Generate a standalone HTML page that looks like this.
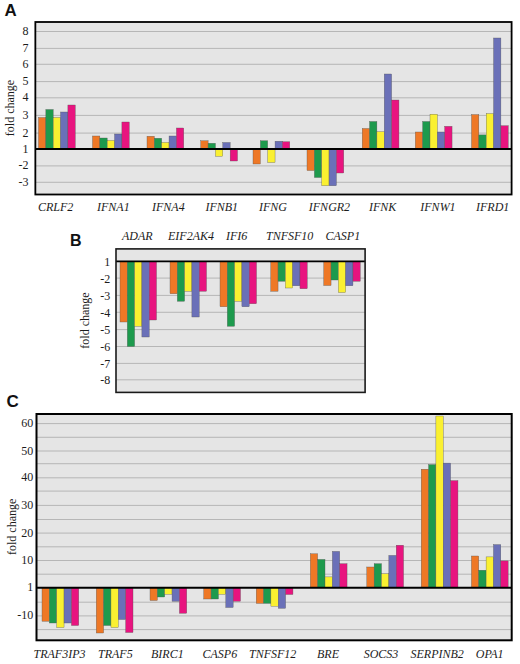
<!DOCTYPE html>
<html lang="en">
<head>
<meta charset="utf-8">
<title>Figure: fold change of interferon- and apoptosis-related genes</title>
<style>
html,body{margin:0;padding:0;background:#fff;}
body{width:520px;height:664px;overflow:hidden;}
svg{display:block;}
.pl{font-family:"Liberation Sans",Arial,Helvetica,sans-serif;font-weight:bold;font-size:16px;fill:#111;}
.tk{font-family:"Liberation Serif","Times New Roman",Times,serif;font-size:12px;fill:#1c1c1c;}
.gl{font-family:"Liberation Serif","Times New Roman",Times,serif;font-style:italic;font-size:12px;fill:#1c1c1c;}
</style>
</head>
<body>
<svg width="520" height="664" viewBox="0 0 520 664">
<rect width="520" height="664" fill="#fff"/>
<rect x="35.35" y="22.0" width="476.25" height="172.5" fill="#e5e5e5"/>
<line x1="35.35" x2="511.6" y1="31.5" y2="31.5" stroke="#a2a2a2" stroke-width="0.7"/>
<line x1="35.35" x2="511.6" y1="48.4" y2="48.4" stroke="#a2a2a2" stroke-width="0.7"/>
<line x1="35.35" x2="511.6" y1="64.3" y2="64.3" stroke="#a2a2a2" stroke-width="0.7"/>
<line x1="35.35" x2="511.6" y1="81.6" y2="81.6" stroke="#a2a2a2" stroke-width="0.7"/>
<line x1="35.35" x2="511.6" y1="97.8" y2="97.8" stroke="#a2a2a2" stroke-width="0.7"/>
<line x1="35.35" x2="511.6" y1="115.4" y2="115.4" stroke="#a2a2a2" stroke-width="0.7"/>
<line x1="35.35" x2="511.6" y1="133.1" y2="133.1" stroke="#a2a2a2" stroke-width="0.7"/>
<line x1="35.35" x2="511.6" y1="165.9" y2="165.9" stroke="#a2a2a2" stroke-width="0.7"/>
<line x1="35.35" x2="511.6" y1="182.3" y2="182.3" stroke="#a2a2a2" stroke-width="0.7"/>
<rect x="38.50" y="117.50" width="7.35" height="31.50" fill="#ee7826" stroke="#555" stroke-width="0.35"/>
<rect x="45.85" y="109.50" width="7.35" height="39.50" fill="#1d9a4d" stroke="#555" stroke-width="0.35"/>
<rect x="53.20" y="117.50" width="7.35" height="31.50" fill="#faf031" stroke="#555" stroke-width="0.35"/>
<rect x="60.55" y="112.00" width="7.35" height="37.00" fill="#6a70b8" stroke="#555" stroke-width="0.35"/>
<rect x="67.90" y="105.00" width="7.35" height="44.00" fill="#e8147f" stroke="#555" stroke-width="0.35"/>
<rect x="92.50" y="136.00" width="7.35" height="13.00" fill="#ee7826" stroke="#555" stroke-width="0.35"/>
<rect x="99.85" y="138.00" width="7.35" height="11.00" fill="#1d9a4d" stroke="#555" stroke-width="0.35"/>
<rect x="107.20" y="140.50" width="7.35" height="8.50" fill="#faf031" stroke="#555" stroke-width="0.35"/>
<rect x="114.55" y="134.00" width="7.35" height="15.00" fill="#6a70b8" stroke="#555" stroke-width="0.35"/>
<rect x="121.90" y="122.00" width="7.35" height="27.00" fill="#e8147f" stroke="#555" stroke-width="0.35"/>
<rect x="147.00" y="136.25" width="7.35" height="12.75" fill="#ee7826" stroke="#555" stroke-width="0.35"/>
<rect x="154.35" y="138.25" width="7.35" height="10.75" fill="#1d9a4d" stroke="#555" stroke-width="0.35"/>
<rect x="161.70" y="142.50" width="7.35" height="6.50" fill="#faf031" stroke="#555" stroke-width="0.35"/>
<rect x="169.05" y="136.00" width="7.35" height="13.00" fill="#6a70b8" stroke="#555" stroke-width="0.35"/>
<rect x="176.40" y="128.00" width="7.35" height="21.00" fill="#e8147f" stroke="#555" stroke-width="0.35"/>
<rect x="200.75" y="140.75" width="7.35" height="8.25" fill="#ee7826" stroke="#555" stroke-width="0.35"/>
<rect x="208.10" y="143.25" width="7.35" height="5.75" fill="#1d9a4d" stroke="#555" stroke-width="0.35"/>
<rect x="215.45" y="149.00" width="7.35" height="7.25" fill="#faf031" stroke="#555" stroke-width="0.35"/>
<rect x="222.80" y="142.50" width="7.35" height="6.50" fill="#6a70b8" stroke="#555" stroke-width="0.35"/>
<rect x="230.15" y="149.00" width="7.35" height="12.00" fill="#e8147f" stroke="#555" stroke-width="0.35"/>
<rect x="253.00" y="149.00" width="7.35" height="15.00" fill="#ee7826" stroke="#555" stroke-width="0.35"/>
<rect x="260.35" y="140.75" width="7.35" height="8.25" fill="#1d9a4d" stroke="#555" stroke-width="0.35"/>
<rect x="267.70" y="149.00" width="7.35" height="13.50" fill="#faf031" stroke="#555" stroke-width="0.35"/>
<rect x="275.05" y="141.25" width="7.35" height="7.75" fill="#6a70b8" stroke="#555" stroke-width="0.35"/>
<rect x="282.40" y="141.75" width="7.35" height="7.25" fill="#e8147f" stroke="#555" stroke-width="0.35"/>
<rect x="307.00" y="149.00" width="7.35" height="21.50" fill="#ee7826" stroke="#555" stroke-width="0.35"/>
<rect x="314.35" y="149.00" width="7.35" height="28.50" fill="#1d9a4d" stroke="#555" stroke-width="0.35"/>
<rect x="321.70" y="149.00" width="7.35" height="36.75" fill="#faf031" stroke="#555" stroke-width="0.35"/>
<rect x="329.05" y="149.00" width="7.35" height="36.75" fill="#6a70b8" stroke="#555" stroke-width="0.35"/>
<rect x="336.40" y="149.00" width="7.35" height="24.00" fill="#e8147f" stroke="#555" stroke-width="0.35"/>
<rect x="362.20" y="128.50" width="7.35" height="20.50" fill="#ee7826" stroke="#555" stroke-width="0.35"/>
<rect x="369.55" y="121.50" width="7.35" height="27.50" fill="#1d9a4d" stroke="#555" stroke-width="0.35"/>
<rect x="376.90" y="131.70" width="7.35" height="17.30" fill="#faf031" stroke="#555" stroke-width="0.35"/>
<rect x="384.25" y="74.00" width="7.35" height="75.00" fill="#6a70b8" stroke="#555" stroke-width="0.35"/>
<rect x="391.60" y="100.00" width="7.35" height="49.00" fill="#e8147f" stroke="#555" stroke-width="0.35"/>
<rect x="415.30" y="132.00" width="7.35" height="17.00" fill="#ee7826" stroke="#555" stroke-width="0.35"/>
<rect x="422.65" y="121.50" width="7.35" height="27.50" fill="#1d9a4d" stroke="#555" stroke-width="0.35"/>
<rect x="430.00" y="114.20" width="7.35" height="34.80" fill="#faf031" stroke="#555" stroke-width="0.35"/>
<rect x="437.35" y="132.00" width="7.35" height="17.00" fill="#6a70b8" stroke="#555" stroke-width="0.35"/>
<rect x="444.70" y="126.30" width="7.35" height="22.70" fill="#e8147f" stroke="#555" stroke-width="0.35"/>
<rect x="471.50" y="114.60" width="7.35" height="34.40" fill="#ee7826" stroke="#555" stroke-width="0.35"/>
<rect x="478.85" y="134.90" width="7.35" height="14.10" fill="#1d9a4d" stroke="#555" stroke-width="0.35"/>
<rect x="486.20" y="113.60" width="7.35" height="35.40" fill="#faf031" stroke="#555" stroke-width="0.35"/>
<rect x="493.55" y="38.00" width="7.35" height="111.00" fill="#6a70b8" stroke="#555" stroke-width="0.35"/>
<rect x="500.90" y="125.70" width="7.35" height="23.30" fill="#e8147f" stroke="#555" stroke-width="0.35"/>
<line x1="35.35" x2="511.6" y1="149" y2="149" stroke="#000" stroke-width="1.85"/>
<rect x="35.35" y="22.0" width="476.25" height="172.5" fill="none" stroke="#000" stroke-width="1.8"/>
<text x="4.6" y="16.2" class="pl" text-anchor="start" style="font-size:16.9px">A</text>
<text x="28.5" y="35.0" class="tk" text-anchor="end" >8</text>
<text x="28.5" y="51.9" class="tk" text-anchor="end" >7</text>
<text x="28.5" y="67.8" class="tk" text-anchor="end" >6</text>
<text x="28.5" y="85.1" class="tk" text-anchor="end" >5</text>
<text x="28.5" y="101.3" class="tk" text-anchor="end" >4</text>
<text x="28.5" y="118.9" class="tk" text-anchor="end" >3</text>
<text x="28.5" y="136.6" class="tk" text-anchor="end" >2</text>
<text x="28.5" y="152.5" class="tk" text-anchor="end" >1</text>
<text x="28.5" y="169.4" class="tk" text-anchor="end" >-2</text>
<text x="28.5" y="185.8" class="tk" text-anchor="end" >-3</text>
<text x="0" y="0" class="tk" text-anchor="middle" transform="translate(13.7,108) rotate(-90)">fold change</text>
<text x="38" y="210.5" class="gl" text-anchor="start" >CRLF2</text>
<text x="97" y="210.5" class="gl" text-anchor="start" >IFNA1</text>
<text x="152" y="210.5" class="gl" text-anchor="start" >IFNA4</text>
<text x="205.4" y="210.5" class="gl" text-anchor="start" >IFNB1</text>
<text x="259" y="210.5" class="gl" text-anchor="start" >IFNG</text>
<text x="308.8" y="210.5" class="gl" text-anchor="start" >IFNGR2</text>
<text x="369" y="210.5" class="gl" text-anchor="start" >IFNK</text>
<text x="420.3" y="210.5" class="gl" text-anchor="start" >IFNW1</text>
<text x="476" y="210.5" class="gl" text-anchor="start" >IFRD1</text>
<rect x="116" y="248.9" width="249.10000000000002" height="143.49999999999997" fill="#e5e5e5"/>
<line x1="116" x2="365.1" y1="278.1" y2="278.1" stroke="#a2a2a2" stroke-width="0.7"/>
<line x1="116" x2="365.1" y1="295.4" y2="295.4" stroke="#a2a2a2" stroke-width="0.7"/>
<line x1="116" x2="365.1" y1="312.3" y2="312.3" stroke="#a2a2a2" stroke-width="0.7"/>
<line x1="116" x2="365.1" y1="329.6" y2="329.6" stroke="#a2a2a2" stroke-width="0.7"/>
<line x1="116" x2="365.1" y1="346.5" y2="346.5" stroke="#a2a2a2" stroke-width="0.7"/>
<line x1="116" x2="365.1" y1="363.4" y2="363.4" stroke="#a2a2a2" stroke-width="0.7"/>
<line x1="116" x2="365.1" y1="379.8" y2="379.8" stroke="#a2a2a2" stroke-width="0.7"/>
<rect x="120.00" y="261.40" width="7.30" height="60.60" fill="#ee7826" stroke="#555" stroke-width="0.35"/>
<rect x="127.30" y="261.40" width="7.30" height="85.10" fill="#1d9a4d" stroke="#555" stroke-width="0.35"/>
<rect x="134.60" y="261.40" width="7.30" height="64.85" fill="#faf031" stroke="#555" stroke-width="0.35"/>
<rect x="141.90" y="261.40" width="7.30" height="75.60" fill="#6a70b8" stroke="#555" stroke-width="0.35"/>
<rect x="149.20" y="261.40" width="7.30" height="58.60" fill="#e8147f" stroke="#555" stroke-width="0.35"/>
<rect x="170.00" y="261.40" width="7.30" height="32.35" fill="#ee7826" stroke="#555" stroke-width="0.35"/>
<rect x="177.30" y="261.40" width="7.30" height="39.85" fill="#1d9a4d" stroke="#555" stroke-width="0.35"/>
<rect x="184.60" y="261.40" width="7.30" height="29.85" fill="#faf031" stroke="#555" stroke-width="0.35"/>
<rect x="191.90" y="261.40" width="7.30" height="55.60" fill="#6a70b8" stroke="#555" stroke-width="0.35"/>
<rect x="199.20" y="261.40" width="7.30" height="29.85" fill="#e8147f" stroke="#555" stroke-width="0.35"/>
<rect x="220.00" y="261.40" width="7.30" height="45.35" fill="#ee7826" stroke="#555" stroke-width="0.35"/>
<rect x="227.30" y="261.40" width="7.30" height="64.85" fill="#1d9a4d" stroke="#555" stroke-width="0.35"/>
<rect x="234.60" y="261.40" width="7.30" height="39.85" fill="#faf031" stroke="#555" stroke-width="0.35"/>
<rect x="241.90" y="261.40" width="7.30" height="45.35" fill="#6a70b8" stroke="#555" stroke-width="0.35"/>
<rect x="249.20" y="261.40" width="7.30" height="42.35" fill="#e8147f" stroke="#555" stroke-width="0.35"/>
<rect x="270.75" y="261.40" width="7.30" height="29.85" fill="#ee7826" stroke="#555" stroke-width="0.35"/>
<rect x="278.05" y="261.40" width="7.30" height="19.85" fill="#1d9a4d" stroke="#555" stroke-width="0.35"/>
<rect x="285.35" y="261.40" width="7.30" height="26.60" fill="#faf031" stroke="#555" stroke-width="0.35"/>
<rect x="292.65" y="261.40" width="7.30" height="24.35" fill="#6a70b8" stroke="#555" stroke-width="0.35"/>
<rect x="299.95" y="261.40" width="7.30" height="27.35" fill="#e8147f" stroke="#555" stroke-width="0.35"/>
<rect x="323.75" y="261.40" width="7.30" height="24.10" fill="#ee7826" stroke="#555" stroke-width="0.35"/>
<rect x="331.05" y="261.40" width="7.30" height="18.60" fill="#1d9a4d" stroke="#555" stroke-width="0.35"/>
<rect x="338.35" y="261.40" width="7.30" height="31.10" fill="#faf031" stroke="#555" stroke-width="0.35"/>
<rect x="345.65" y="261.40" width="7.30" height="24.35" fill="#6a70b8" stroke="#555" stroke-width="0.35"/>
<rect x="352.95" y="261.40" width="7.30" height="19.85" fill="#e8147f" stroke="#555" stroke-width="0.35"/>
<line x1="116" x2="365.1" y1="261.4" y2="261.4" stroke="#000" stroke-width="1.9"/>
<rect x="116" y="248.9" width="249.10000000000002" height="143.49999999999997" fill="none" stroke="#1a1a1a" stroke-width="1.6"/>
<text x="70" y="246" class="pl" text-anchor="start" >B</text>
<text x="110.3" y="265.79999999999995" class="tk" text-anchor="end" >1</text>
<text x="110.3" y="282.5" class="tk" text-anchor="end" >-2</text>
<text x="110.3" y="299.79999999999995" class="tk" text-anchor="end" >-3</text>
<text x="110.3" y="316.7" class="tk" text-anchor="end" >-4</text>
<text x="110.3" y="334.0" class="tk" text-anchor="end" >-5</text>
<text x="110.3" y="350.9" class="tk" text-anchor="end" >-6</text>
<text x="110.3" y="367.79999999999995" class="tk" text-anchor="end" >-7</text>
<text x="110.3" y="384.2" class="tk" text-anchor="end" >-8</text>
<text x="0" y="0" class="tk" text-anchor="middle" transform="translate(88.6,320.5) rotate(-90)">fold change</text>
<text x="122" y="240" class="gl" text-anchor="start" >ADAR</text>
<text x="168" y="240" class="gl" text-anchor="start" >EIF2AK4</text>
<text x="226" y="240" class="gl" text-anchor="start" >IFI6</text>
<text x="266" y="240" class="gl" text-anchor="start" >TNFSF10</text>
<text x="325.5" y="240" class="gl" text-anchor="start" >CASP1</text>
<rect x="36.5" y="414" width="475.2" height="226.29999999999995" fill="#e5e5e5"/>
<line x1="36.5" x2="511.7" y1="423.6" y2="423.6" stroke="#a2a2a2" stroke-width="0.7"/>
<line x1="36.5" x2="511.7" y1="437.3" y2="437.3" stroke="#a2a2a2" stroke-width="0.7"/>
<line x1="36.5" x2="511.7" y1="451" y2="451" stroke="#a2a2a2" stroke-width="0.7"/>
<line x1="36.5" x2="511.7" y1="463.7" y2="463.7" stroke="#a2a2a2" stroke-width="0.7"/>
<line x1="36.5" x2="511.7" y1="477.8" y2="477.8" stroke="#a2a2a2" stroke-width="0.7"/>
<line x1="36.5" x2="511.7" y1="491.1" y2="491.1" stroke="#a2a2a2" stroke-width="0.7"/>
<line x1="36.5" x2="511.7" y1="505.4" y2="505.4" stroke="#a2a2a2" stroke-width="0.7"/>
<line x1="36.5" x2="511.7" y1="519.5" y2="519.5" stroke="#a2a2a2" stroke-width="0.7"/>
<line x1="36.5" x2="511.7" y1="533.1" y2="533.1" stroke="#a2a2a2" stroke-width="0.7"/>
<line x1="36.5" x2="511.7" y1="546.8" y2="546.8" stroke="#a2a2a2" stroke-width="0.7"/>
<line x1="36.5" x2="511.7" y1="560.5" y2="560.5" stroke="#a2a2a2" stroke-width="0.7"/>
<line x1="36.5" x2="511.7" y1="574.2" y2="574.2" stroke="#a2a2a2" stroke-width="0.7"/>
<line x1="36.5" x2="511.7" y1="602.2" y2="602.2" stroke="#a2a2a2" stroke-width="0.7"/>
<line x1="36.5" x2="511.7" y1="615.9" y2="615.9" stroke="#a2a2a2" stroke-width="0.7"/>
<line x1="36.5" x2="511.7" y1="629.6" y2="629.6" stroke="#a2a2a2" stroke-width="0.7"/>
<rect x="42.00" y="587.70" width="7.35" height="33.55" fill="#ee7826" stroke="#555" stroke-width="0.35"/>
<rect x="49.35" y="587.70" width="7.35" height="35.30" fill="#1d9a4d" stroke="#555" stroke-width="0.35"/>
<rect x="56.70" y="587.70" width="7.35" height="39.80" fill="#faf031" stroke="#555" stroke-width="0.35"/>
<rect x="64.05" y="587.70" width="7.35" height="35.30" fill="#6a70b8" stroke="#555" stroke-width="0.35"/>
<rect x="71.40" y="587.70" width="7.35" height="37.80" fill="#e8147f" stroke="#555" stroke-width="0.35"/>
<rect x="96.25" y="587.70" width="7.35" height="45.30" fill="#ee7826" stroke="#555" stroke-width="0.35"/>
<rect x="103.60" y="587.70" width="7.35" height="37.80" fill="#1d9a4d" stroke="#555" stroke-width="0.35"/>
<rect x="110.95" y="587.70" width="7.35" height="39.80" fill="#faf031" stroke="#555" stroke-width="0.35"/>
<rect x="118.30" y="587.70" width="7.35" height="31.80" fill="#6a70b8" stroke="#555" stroke-width="0.35"/>
<rect x="125.65" y="587.70" width="7.35" height="44.80" fill="#e8147f" stroke="#555" stroke-width="0.35"/>
<rect x="150.00" y="587.70" width="7.35" height="12.80" fill="#ee7826" stroke="#555" stroke-width="0.35"/>
<rect x="157.35" y="587.70" width="7.35" height="9.30" fill="#1d9a4d" stroke="#555" stroke-width="0.35"/>
<rect x="164.70" y="587.70" width="7.35" height="6.55" fill="#faf031" stroke="#555" stroke-width="0.35"/>
<rect x="172.05" y="587.70" width="7.35" height="13.55" fill="#6a70b8" stroke="#555" stroke-width="0.35"/>
<rect x="179.40" y="587.70" width="7.35" height="25.55" fill="#e8147f" stroke="#555" stroke-width="0.35"/>
<rect x="203.75" y="587.70" width="7.35" height="11.30" fill="#ee7826" stroke="#555" stroke-width="0.35"/>
<rect x="211.10" y="587.70" width="7.35" height="11.30" fill="#1d9a4d" stroke="#555" stroke-width="0.35"/>
<rect x="218.45" y="587.70" width="7.35" height="6.55" fill="#faf031" stroke="#555" stroke-width="0.35"/>
<rect x="225.80" y="587.70" width="7.35" height="19.80" fill="#6a70b8" stroke="#555" stroke-width="0.35"/>
<rect x="233.15" y="587.70" width="7.35" height="13.55" fill="#e8147f" stroke="#555" stroke-width="0.35"/>
<rect x="256.20" y="587.70" width="7.35" height="15.70" fill="#ee7826" stroke="#555" stroke-width="0.35"/>
<rect x="263.55" y="587.70" width="7.35" height="15.70" fill="#1d9a4d" stroke="#555" stroke-width="0.35"/>
<rect x="270.90" y="587.70" width="7.35" height="18.50" fill="#faf031" stroke="#555" stroke-width="0.35"/>
<rect x="278.25" y="587.70" width="7.35" height="20.60" fill="#6a70b8" stroke="#555" stroke-width="0.35"/>
<rect x="285.60" y="587.70" width="7.35" height="6.80" fill="#e8147f" stroke="#555" stroke-width="0.35"/>
<rect x="310.30" y="553.80" width="7.35" height="33.90" fill="#ee7826" stroke="#555" stroke-width="0.35"/>
<rect x="317.65" y="559.40" width="7.35" height="28.30" fill="#1d9a4d" stroke="#555" stroke-width="0.35"/>
<rect x="325.00" y="576.90" width="7.35" height="10.80" fill="#faf031" stroke="#555" stroke-width="0.35"/>
<rect x="332.35" y="551.40" width="7.35" height="36.30" fill="#6a70b8" stroke="#555" stroke-width="0.35"/>
<rect x="339.70" y="563.70" width="7.35" height="24.00" fill="#e8147f" stroke="#555" stroke-width="0.35"/>
<rect x="366.80" y="567.00" width="7.35" height="20.70" fill="#ee7826" stroke="#555" stroke-width="0.35"/>
<rect x="374.15" y="563.70" width="7.35" height="24.00" fill="#1d9a4d" stroke="#555" stroke-width="0.35"/>
<rect x="381.50" y="573.80" width="7.35" height="13.90" fill="#faf031" stroke="#555" stroke-width="0.35"/>
<rect x="388.85" y="555.40" width="7.35" height="32.30" fill="#6a70b8" stroke="#555" stroke-width="0.35"/>
<rect x="396.20" y="545.20" width="7.35" height="42.50" fill="#e8147f" stroke="#555" stroke-width="0.35"/>
<rect x="421.20" y="469.20" width="7.35" height="118.50" fill="#ee7826" stroke="#555" stroke-width="0.35"/>
<rect x="428.55" y="464.60" width="7.35" height="123.10" fill="#1d9a4d" stroke="#555" stroke-width="0.35"/>
<rect x="435.90" y="416.00" width="7.35" height="171.70" fill="#faf031" stroke="#555" stroke-width="0.35"/>
<rect x="443.25" y="463.10" width="7.35" height="124.60" fill="#6a70b8" stroke="#555" stroke-width="0.35"/>
<rect x="450.60" y="480.60" width="7.35" height="107.10" fill="#e8147f" stroke="#555" stroke-width="0.35"/>
<rect x="471.40" y="556.00" width="7.35" height="31.70" fill="#ee7826" stroke="#555" stroke-width="0.35"/>
<rect x="478.75" y="570.20" width="7.35" height="17.50" fill="#1d9a4d" stroke="#555" stroke-width="0.35"/>
<rect x="486.10" y="556.90" width="7.35" height="30.80" fill="#faf031" stroke="#555" stroke-width="0.35"/>
<rect x="493.45" y="544.60" width="7.35" height="43.10" fill="#6a70b8" stroke="#555" stroke-width="0.35"/>
<rect x="500.80" y="560.90" width="7.35" height="26.80" fill="#e8147f" stroke="#555" stroke-width="0.35"/>
<line x1="36.5" x2="511.7" y1="587.7" y2="587.7" stroke="#000" stroke-width="2"/>
<rect x="36.5" y="414" width="475.2" height="226.29999999999995" fill="none" stroke="#000" stroke-width="2"/>
<text x="6.5" y="406.6" class="pl" text-anchor="start" style="font-size:17px">C</text>
<text x="33.2" y="427.1" class="tk" text-anchor="end" >60</text>
<text x="33.2" y="454.5" class="tk" text-anchor="end" >50</text>
<text x="33.2" y="481.3" class="tk" text-anchor="end" >40</text>
<text x="33.2" y="508.9" class="tk" text-anchor="end" >30</text>
<text x="33.2" y="536.6" class="tk" text-anchor="end" >20</text>
<text x="33.2" y="564.0" class="tk" text-anchor="end" >10</text>
<text x="33.2" y="591.0" class="tk" text-anchor="end" >1</text>
<text x="33.2" y="619.4" class="tk" text-anchor="end" >-10</text>
<text x="0" y="0" class="tk" text-anchor="middle" transform="translate(16.3,526.8) rotate(-90)">fold change</text>
<text x="33.5" y="657.5" class="gl" text-anchor="start" >TRAF3IP3</text>
<text x="98" y="657.5" class="gl" text-anchor="start" >TRAF5</text>
<text x="151" y="657.5" class="gl" text-anchor="start" >BIRC1</text>
<text x="202.5" y="657.5" class="gl" text-anchor="start" >CASP6</text>
<text x="249" y="657.5" class="gl" text-anchor="start" >TNFSF12</text>
<text x="317" y="657.5" class="gl" text-anchor="start" >BRE</text>
<text x="363.7" y="657.5" class="gl" text-anchor="start" >SOCS3</text>
<text x="410.5" y="657.5" class="gl" text-anchor="start" >SERPINB2</text>
<text x="475.8" y="657.5" class="gl" text-anchor="start" >OPA1</text>
</svg>
</body>
</html>
